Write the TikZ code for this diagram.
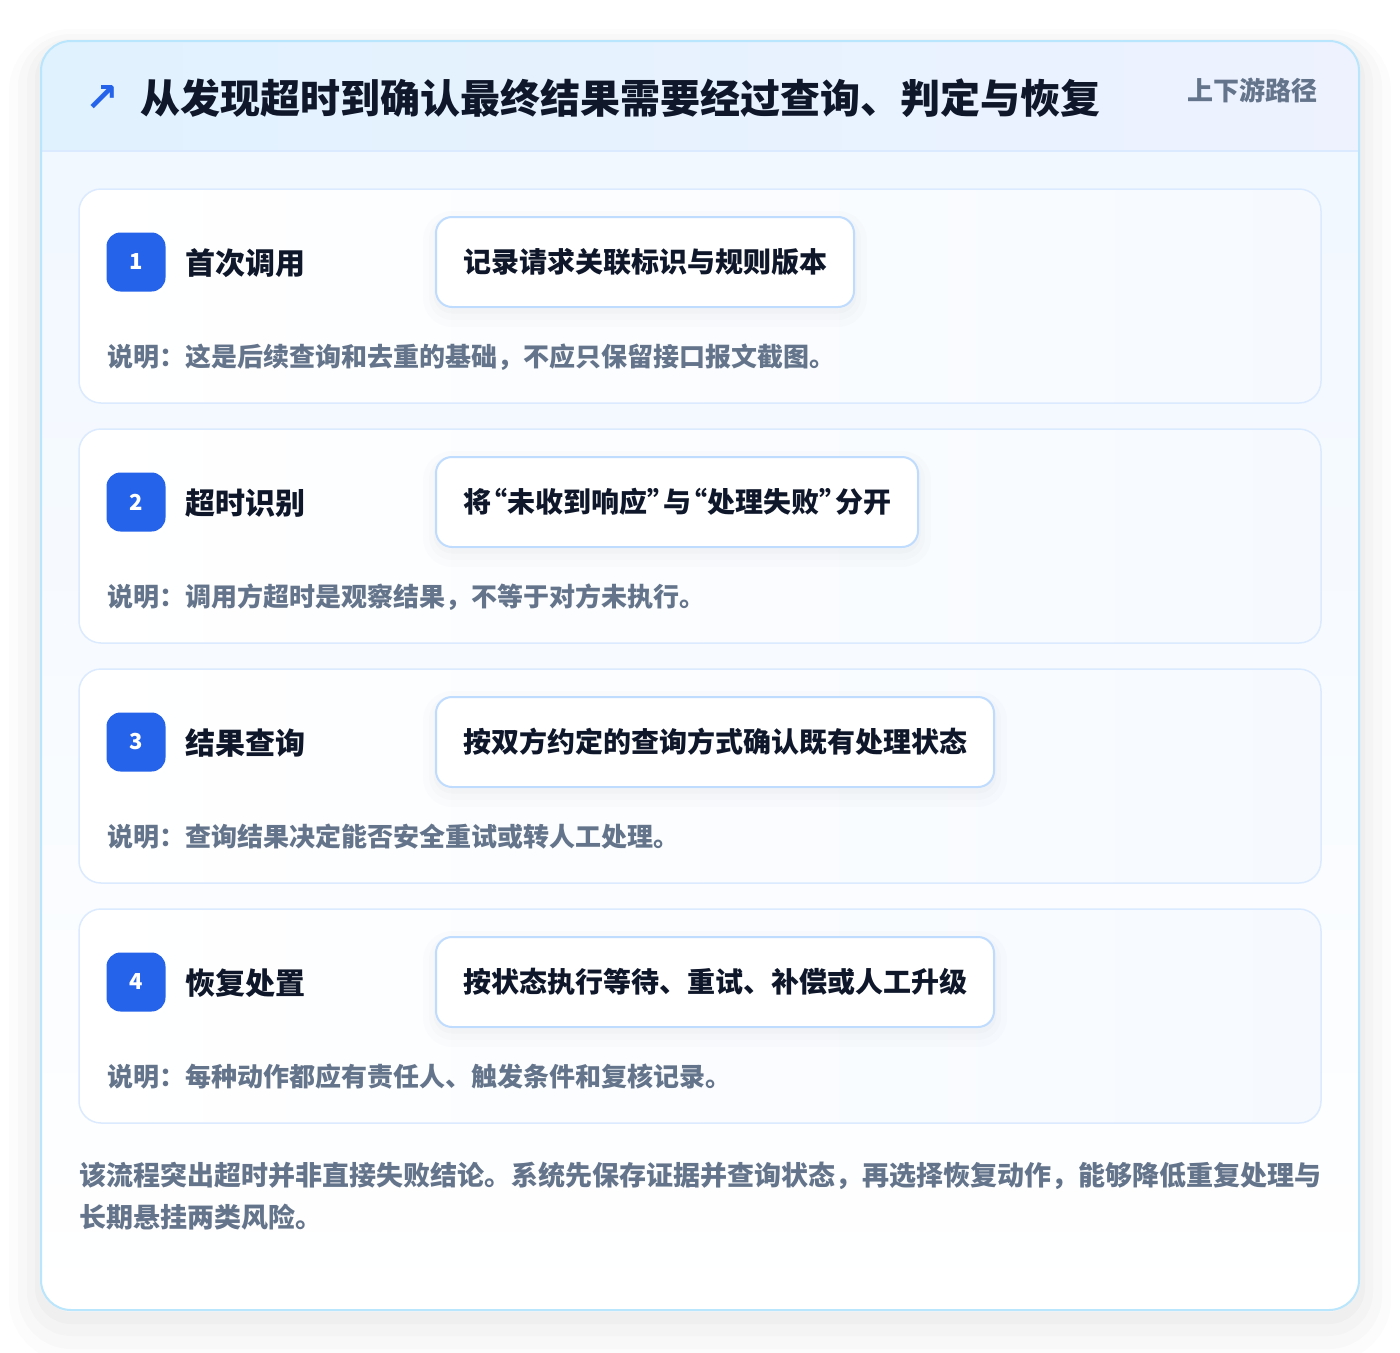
\documentclass[tikz,border=0pt]{standalone}
\usepackage{fontspec}
\newfontfamily\cjkfont{Noto Sans CJK SC}
\newfontfamily\symfont{DejaVu Sans}
\definecolor{badgeblue}{HTML}{2563EB}
\definecolor{titleink}{HTML}{0F172A}
\definecolor{notegray}{HTML}{64748B}
\definecolor{panelline}{HTML}{BAE6FD}
\definecolor{cardline}{HTML}{DBEAFE}
\definecolor{boxline}{HTML}{BFDBFE}
\definecolor{headleft}{HTML}{E0F2FE}
\definecolor{headright}{HTML}{EEF2FF}
\definecolor{paneltop}{HTML}{F0F7FF}
\definecolor{cardtint}{HTML}{F6FAFF}
\newcommand\openq{\makebox[16pt][r]{“}}
\newcommand\closeq{\makebox[16pt][l]{”}}

\begin{document}
\begin{tikzpicture}[x=1pt,y=-1pt,
  halo/.style n args={3}{preaction={draw=black,draw opacity=#3,line width=#1,
    transform canvas={yshift=#2}}},
  panel/.style={rounded corners=30pt,minimum width=1318pt,minimum height=1269pt,inner sep=0pt,
    top color=paneltop,bottom color=white,
    halo={64pt}{-20pt}{0.012},halo={46pt}{-16pt}{0.014},halo={28pt}{-12pt}{0.016},
    halo={12pt}{-8pt}{0.02}},
  card/.style={draw=cardline,line width=1.5pt,rounded corners=22pt,minimum width=1242pt,
    minimum height=214pt,inner sep=0pt,left color=white,right color=cardtint},
  badge/.style={fill=badgeblue,rounded corners=14pt,minimum size=59pt,inner sep=0pt,
    text=white,font=\cjkfont\bfseries\fontsize{22}{26}\selectfont},
  steptitle/.style={anchor=west,inner sep=0pt,text=titleink,
    font=\cjkfont\bfseries\fontsize{30}{36}\selectfont},
  detailbox/.style={anchor=west,draw=boxline,line width=2pt,fill=white,rounded corners=16pt,
    minimum height=90pt,inner xsep=27pt,text=titleink,
    font=\cjkfont\bfseries\fontsize{28}{34}\selectfont,
    halo={26pt}{-7pt}{0.01},halo={14pt}{-6pt}{0.012},halo={5pt}{-4pt}{0.015}},
  notetext/.style={anchor=west,inner sep=0pt,text=notegray,
    font=\cjkfont\bfseries\fontsize{26}{30}\selectfont}]
\fill[white] (0,0) rectangle (1400,1352);
\useasboundingbox (0,0) rectangle (1400,1352);

% outer panel and header
\path (700,675.5) node (panel) [panel] {};
\begin{scope}
\clip[rounded corners=30pt] (41,41) rectangle (1359,1310);
\shade[left color=headleft,right color=headright] (41,41) rectangle (1359,151);
\end{scope}
\draw[cardline,line width=1.5pt] (41,151) -- (1359,151);
\draw[panelline,line width=2pt,rounded corners=30pt] (41,41) rectangle (1359,1310);
\path (102,98) node (icon) [text=badgeblue,font=\symfont\bfseries\fontsize{40}{44}\selectfont] {↗};
\path (140,98) node (heading) [anchor=west,inner sep=0pt,text=titleink,
  font=\cjkfont\bfseries\fontsize{40}{48}\selectfont] {从发现超时到确认最终结果需要经过查询、判定与恢复};
\path (1318,90) node (tag) [anchor=east,inner sep=0pt,text=notegray,
  font=\cjkfont\bfseries\fontsize{26}{30}\selectfont] {上下游路径};

% step 1
\path (700,296) node (card1) [card] {};
\path (136,262) node (badge1) [badge] {1};
\path (185,263) node (title1) [steptitle] {首次调用};
\path (435,262) node (detail1) [detailbox] {记录请求关联标识与规则版本};
\path (107,357) node (note1) [notetext] {说明：这是后续查询和去重的基础，不应只保留接口报文截图。};

% step 2
\path (700,536) node (card2) [card] {};
\path (136,502) node (badge2) [badge] {2};
\path (185,503) node (title2) [steptitle] {超时识别};
\path (435,502) node (detail2) [detailbox] {将\openq 未收到响应\closeq 与\openq 处理失败\closeq 分开};
\path (107,597) node (note2) [notetext] {说明：调用方超时是观察结果，不等于对方未执行。};

% step 3
\path (700,776) node (card3) [card] {};
\path (136,742) node (badge3) [badge] {3};
\path (185,743) node (title3) [steptitle] {结果查询};
\path (435,742) node (detail3) [detailbox] {按双方约定的查询方式确认既有处理状态};
\path (107,837) node (note3) [notetext] {说明：查询结果决定能否安全重试或转人工处理。};

% step 4
\path (700,1016) node (card4) [card] {};
\path (136,982) node (badge4) [badge] {4};
\path (185,983) node (title4) [steptitle] {恢复处置};
\path (435,982) node (detail4) [detailbox] {按状态执行等待、重试、补偿或人工升级};
\path (107,1077) node (note4) [notetext] {说明：每种动作都应有责任人、触发条件和复核记录。};

% summary
\path (79,1196) node (summary) [anchor=west,inner sep=0pt,align=left,text=notegray,
  font=\cjkfont\bfseries\fontsize{27}{42}\selectfont]
  {该流程突出超时并非直接失败结论。系统先保存证据并查询状态，再选择恢复动作，能够降低重复处理与\\长期悬挂两类风险。};
\end{tikzpicture}
\end{document}
